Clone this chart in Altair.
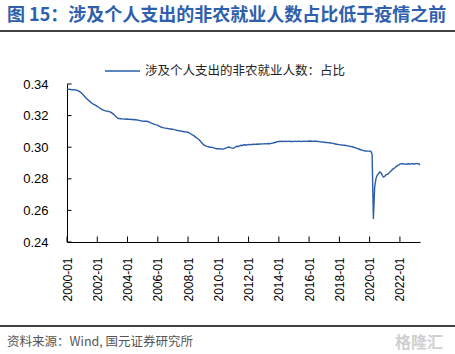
import altair as alt
import pandas as pd

title_text = "图 15：涉及个人支出的非农就业人数占比低于疫情之前"
legend_text = "涉及个人支出的非农就业人数：占比"
source_text = "资料来源：Wind, 国元证券研究所"
watermark_text = "格隆汇"

start_month = "2000-01-01"
v2000 = [0.3368, 0.3366, 0.3367, 0.3365, 0.3364, 0.3363, 0.3364, 0.3362, 0.3360, 0.3357, 0.3352, 0.3346]
v2001 = [0.3338, 0.3330, 0.3321, 0.3312, 0.3305, 0.3297, 0.3290, 0.3283, 0.3277, 0.3272, 0.3268, 0.3263]
v2002 = [0.3258, 0.3253, 0.3248, 0.3243, 0.3238, 0.3234, 0.3231, 0.3229, 0.3228, 0.3226, 0.3224, 0.3220]
v2003 = [0.3214, 0.3208, 0.3200, 0.3193, 0.3186, 0.3182, 0.3180, 0.3181, 0.3179, 0.3178, 0.3179, 0.3177]
v2004 = [0.3178, 0.3176, 0.3177, 0.3175, 0.3176, 0.3174, 0.3175, 0.3173, 0.3172, 0.3170, 0.3168, 0.3166]
v2005 = [0.3165, 0.3164, 0.3165, 0.3164, 0.3163, 0.3160, 0.3156, 0.3152, 0.3149, 0.3146, 0.3143, 0.3141]
v2006 = [0.3138, 0.3134, 0.3130, 0.3126, 0.3124, 0.3122, 0.3121, 0.3119, 0.3118, 0.3116, 0.3115, 0.3115]
v2007 = [0.3113, 0.3111, 0.3110, 0.3107, 0.3105, 0.3104, 0.3103, 0.3101, 0.3099, 0.3098, 0.3097, 0.3096]
v2008 = [0.3094, 0.3090, 0.3085, 0.3080, 0.3076, 0.3070, 0.3064, 0.3058, 0.3052, 0.3045, 0.3036, 0.3027]
v2009 = [0.3018, 0.3012, 0.3008, 0.3005, 0.3003, 0.3001, 0.3000, 0.2999, 0.2997, 0.2994, 0.2991, 0.2990]
v2010 = [0.2990, 0.2988, 0.2991, 0.2989, 0.2988, 0.2991, 0.2994, 0.2997, 0.3001, 0.3000, 0.2996, 0.2994]
v2011 = [0.2993, 0.2998, 0.3003, 0.3006, 0.3005, 0.3008, 0.3012, 0.3011, 0.3014, 0.3015, 0.3013, 0.3016]
v2012 = [0.3017, 0.3016, 0.3018, 0.3017, 0.3019, 0.3018, 0.3019, 0.3020, 0.3019, 0.3021, 0.3020, 0.3021]
v2013 = [0.3021, 0.3022, 0.3021, 0.3022, 0.3023, 0.3022, 0.3024, 0.3026, 0.3028, 0.3030, 0.3033, 0.3035]
v2014 = [0.3037, 0.3036, 0.3038, 0.3036, 0.3037, 0.3038, 0.3036, 0.3037, 0.3038, 0.3036, 0.3037, 0.3036]
v2015 = [0.3037, 0.3038, 0.3036, 0.3037, 0.3038, 0.3037, 0.3036, 0.3038, 0.3037, 0.3038, 0.3037, 0.3038]
v2016 = [0.3039, 0.3038, 0.3039, 0.3037, 0.3038, 0.3039, 0.3037, 0.3036, 0.3035, 0.3034, 0.3033, 0.3032]
v2017 = [0.3031, 0.3030, 0.3030, 0.3029, 0.3028, 0.3027, 0.3026, 0.3024, 0.3022, 0.3020, 0.3019, 0.3017]
v2018 = [0.3016, 0.3015, 0.3014, 0.3013, 0.3012, 0.3011, 0.3010, 0.3008, 0.3006, 0.3005, 0.3003, 0.3001]
v2019 = [0.2998, 0.2996, 0.2993, 0.2990, 0.2987, 0.2984, 0.2981, 0.2979, 0.2977, 0.2976, 0.2975, 0.2975]
v2020 = [0.2975, 0.2973, 0.2955, 0.2546, 0.2745, 0.2800, 0.2822, 0.2832, 0.2843, 0.2838, 0.2822, 0.2811]
v2021 = [0.2816, 0.2826, 0.2828, 0.2833, 0.2842, 0.2850, 0.2858, 0.2864, 0.2870, 0.2877, 0.2883, 0.2887]
v2022 = [0.2893, 0.2896, 0.2894, 0.2896, 0.2893, 0.2892, 0.2894, 0.2895, 0.2893, 0.2895, 0.2896, 0.2894]
v2023 = [0.2895, 0.2896, 0.2897, 0.2894, 0.2888]

values = (v2000 + v2001 + v2002 + v2003 + v2004 + v2005 + v2006 + v2007 + v2008 + v2009 +
          v2010 + v2011 + v2012 + v2013 + v2014 + v2015 + v2016 + v2017 + v2018 + v2019 +
          v2020 + v2021 + v2022 + v2023)
dates = pd.date_range(start_month, periods=len(values), freq="MS").strftime("%Y-%m-%d").tolist()
df = pd.DataFrame({"date": dates, "value": values})

tick_years = list(range(2000, 2023, 2))
tick_dates = [f"{y}-01-01" for y in tick_years]
y_ticks = [0.24, 0.26, 0.28, 0.30, 0.32, 0.34]

W, H = 353, 158
FONT = "Liberation Sans"
CJK = "Noto Sans CJK SC"
LINE_COLOR = "#2a5caa"

x_scale = alt.Scale(domain=[dates[0], dates[-1]], nice=False)
y_scale = alt.Scale(domain=[0.24, 0.34], nice=False, zero=False)

x_axis = alt.Axis(values=[alt.DateTime(year=y, month=1, date=1) for y in tick_years],
                  format="%Y-%m", labelAngle=270, labelAlign="right",
                  labelBaseline="middle", labelPadding=15, ticks=False,
                  labelFont=FONT, labelFontSize=12, labelColor="#000",
                  domainColor="#000", domainWidth=1, grid=False, title=None,
                  labelOverlap=False, labelFlush=False)
y_axis = alt.Axis(values=y_ticks, format=".2f", ticks=False, grid=False,
                  labelFont=FONT, labelFontSize=13, labelColor="#000",
                  labelPadding=19, domainColor="#000", domainWidth=1, title=None,
                  labelOverlap=False, labelFlush=False)

line = alt.Chart(df).mark_line(color=LINE_COLOR, strokeWidth=1.4).encode(
    x=alt.X("date:T", scale=x_scale, axis=x_axis),
    y=alt.Y("value:Q", scale=y_scale, axis=y_axis),
)

xtick_df = pd.DataFrame({"date": tick_dates})
xticks = alt.Chart(xtick_df).mark_rule(color="#000", strokeWidth=1).encode(
    x=alt.X("date:T", scale=x_scale, axis=x_axis),
    y=alt.value(H - 5.5), y2=alt.value(H),
)

ytick_df = pd.DataFrame({"value": y_ticks})
yticks = alt.Chart(ytick_df).mark_rule(color="#000", strokeWidth=1).encode(
    y=alt.Y("value:Q", scale=y_scale, axis=y_axis),
    x=alt.value(0), x2=alt.value(4.5),
)

one = pd.DataFrame({"k": [0]})

top_line = alt.Chart(one).mark_rule(color="#000", strokeWidth=1.6).encode(
    x=alt.value(-67), x2=alt.value(388), y=alt.value(-53))
bottom_line = alt.Chart(one).mark_rule(color="#000", strokeWidth=1.6).encode(
    x=alt.value(-67), x2=alt.value(388), y=alt.value(242))
legend_line = alt.Chart(one).mark_rule(color=LINE_COLOR, strokeWidth=1.4).encode(
    x=alt.value(38), x2=alt.value(73), y=alt.value(-13))

title = alt.Chart(pd.DataFrame({"t": [title_text]})).mark_text(
    align="left", baseline="middle", font=CJK, fontSize=18, fontWeight="bold",
    color="#2f60ad").encode(text="t:N", x=alt.value(-60), y=alt.value(-68))

legend_label = alt.Chart(pd.DataFrame({"t": [legend_text]})).mark_text(
    align="left", baseline="middle", font=CJK, fontSize=12.5, color="#222").encode(
    text="t:N", x=alt.value(78), y=alt.value(-13))

source = alt.Chart(pd.DataFrame({"t": [source_text]})).mark_text(
    align="left", baseline="middle", font=CJK, fontSize=12.5, color="#555").encode(
    text="t:N", x=alt.value(-60), y=alt.value(258))

watermark = alt.Chart(pd.DataFrame({"t": [watermark_text]})).mark_text(
    align="center", baseline="middle", font=CJK, fontSize=16, fontWeight="bold",
    color="#cfcfcf").encode(text="t:N", x=alt.value(352), y=alt.value(259))

chart = alt.layer(
    line, xticks, yticks, top_line, bottom_line, legend_line, title, legend_label, source, watermark
).properties(
    width=W, height=H,
    autosize=alt.AutoSizeParams(type="none"),
    padding={"left": 67, "top": 84, "right": 35, "bottom": 112},
    background="white",
).configure_view(stroke=None).configure_axis(labelOverlap=False)

chart.save("out.html", embed_options={"renderer": "svg", "actions": False})
